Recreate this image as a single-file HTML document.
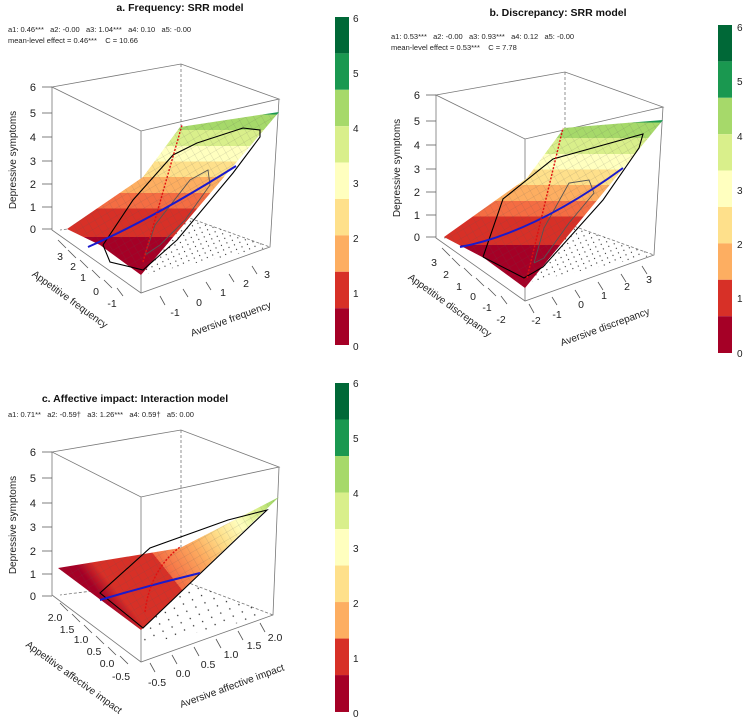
<!DOCTYPE html>
<html><head><meta charset="utf-8"><style>
html,body{margin:0;padding:0;background:#fff;}
svg{display:block;font-family:"Liberation Sans",Arial,sans-serif;}
</style></head><body>
<svg width="750" height="723" viewBox="0 0 750 723" xmlns="http://www.w3.org/2000/svg">
<defs>
<linearGradient id="ga" gradientUnits="userSpaceOnUse" x1="0" y1="262" x2="0" y2="105">
<stop offset="0" stop-color="#A50026"/><stop offset="0.16" stop-color="#A50026"/>
<stop offset="0.16" stop-color="#D73027"/><stop offset="0.34" stop-color="#D73027"/>
<stop offset="0.34" stop-color="#F46D43"/><stop offset="0.44" stop-color="#F46D43"/>
<stop offset="0.44" stop-color="#FDAE61"/><stop offset="0.54" stop-color="#FDAE61"/>
<stop offset="0.54" stop-color="#FEE08B"/><stop offset="0.64" stop-color="#FEE08B"/>
<stop offset="0.64" stop-color="#FFFFBF"/><stop offset="0.74" stop-color="#FFFFBF"/>
<stop offset="0.74" stop-color="#D9EF8B"/><stop offset="0.84" stop-color="#D9EF8B"/>
<stop offset="0.84" stop-color="#A6D96A"/><stop offset="0.94" stop-color="#A6D96A"/>
<stop offset="0.94" stop-color="#1A9850"/><stop offset="1" stop-color="#1A9850"/>
</linearGradient>
<linearGradient id="gc" gradientUnits="userSpaceOnUse" x1="120" y1="620" x2="270" y2="500">
<stop offset="0" stop-color="#A50026"/><stop offset="0.08" stop-color="#D73027"/>
<stop offset="0.35" stop-color="#D73027"/><stop offset="0.35" stop-color="#F46D43"/>
<stop offset="0.55" stop-color="#FDAE61"/><stop offset="0.68" stop-color="#FEE08B"/>
<stop offset="0.8" stop-color="#FFFFBF"/><stop offset="0.92" stop-color="#D9EF8B"/>
<stop offset="1" stop-color="#A6D96A"/>
</linearGradient>
<pattern id="dots" width="6" height="5" patternUnits="userSpaceOnUse" patternTransform="rotate(-25)">
<circle cx="1" cy="1" r="0.6" fill="#222"/>
</pattern>
<pattern id="dots2" width="10" height="8" patternUnits="userSpaceOnUse" patternTransform="rotate(-25)">
<circle cx="1" cy="1" r="0.7" fill="#222"/>
</pattern>
<pattern id="mesh" width="7" height="7" patternUnits="userSpaceOnUse" patternTransform="rotate(-30)">
<path d="M0 0H7M0 0V7" stroke="#555" stroke-width="0.4" fill="none" opacity="0.5"/>
</pattern>
<g id="cbar">
<rect x="0" y="0" width="14" height="36.4" fill="#006837"/>
<rect x="0" y="36.4" width="14" height="36.4" fill="#1A9850"/>
<rect x="0" y="72.8" width="14" height="36.4" fill="#A6D96A"/>
<rect x="0" y="109.2" width="14" height="36.4" fill="#D9EF8B"/>
<rect x="0" y="145.6" width="14" height="36.4" fill="#FFFFBF"/>
<rect x="0" y="182" width="14" height="36.4" fill="#FEE08B"/>
<rect x="0" y="218.4" width="14" height="36.4" fill="#FDAE61"/>
<rect x="0" y="254.8" width="14" height="36.4" fill="#D73027"/>
<rect x="0" y="291.2" width="14" height="36.8" fill="#A50026"/>
</g>
<g id="boxa">
<g stroke="#777" stroke-width="0.8" fill="none">
<path d="M52 87 L181 64 L279 99 L141 131 Z"/>
<path d="M52 87 V230 L141 293 L270 247 L279 99"/>
<path d="M141 131 V293"/>
<path d="M181 64 V215 M181 215 L60 230 M181 215 L270 247" stroke-dasharray="3,2"/>
</g>
<g stroke="#555" stroke-width="0.8">
<path d="M42 87H52M42 113H52M42 137H52M42 161H52M42 184H52M42 207H52M42 229H52"/>
</g>
<g font-size="11" fill="#222" text-anchor="end">
<text x="36" y="91">6</text><text x="36" y="117">5</text><text x="36" y="141">4</text>
<text x="36" y="165">3</text><text x="36" y="188">2</text><text x="36" y="211">1</text><text x="36" y="233">0</text>
</g>
<text transform="translate(16,160) rotate(-90)" font-size="10" fill="#222" text-anchor="middle">Depressive symptoms</text>
</g>
</defs>

<!-- Panel A -->
<text x="180" y="11" font-size="10.5" font-weight="bold" text-anchor="middle" fill="#111">a. Frequency: SRR model</text>
<text x="8" y="32" font-size="7.5" fill="#222">a1: 0.46***&#160;&#160; a2: -0.00&#160;&#160; a3: 1.04***&#160;&#160; a4: 0.10&#160;&#160; a5: -0.00</text>
<text x="8" y="43" font-size="7.5" fill="#222">mean-level effect = 0.46***&#160;&#160;&#160; C = 10.66</text>
<use href="#boxa"/>
<polygon points="141,275 270,247 181,215" fill="url(#dots)"/>
<polygon points="67,229 100,245 141,275 279,112 180,127 143,177" fill="url(#ga)"/>
<polygon points="67,229 100,245 141,275 279,112 180,127 143,177" fill="url(#mesh)"/>
<polyline points="103,245 133,200 157,173 173,155 197,143 243,128 260,130 260,137 233,173 177,240 143,270 110,262 103,245" fill="none" stroke="#000" stroke-width="1.1"/>
<polyline points="145,255 155,225 190,180 208,170 210,185 185,220 160,245 145,255" fill="none" stroke="#555" stroke-width="0.9"/>
<path d="M88 247 Q150 220 236 166" fill="none" stroke="#1a1acc" stroke-width="2"/>
<path d="M143 262 L182 125" fill="none" stroke="#e01010" stroke-width="1.4" stroke-dasharray="2,1.5"/>
<g stroke="#555" stroke-width="0.8"><path d="M58 240L66 248M68 250L76 258M80 260L88 268M92 270L100 278M104 280L112 288M117 288L123 296"/>
<path d="M160 296L165 305M183 289L188 297M206 282L211 290M229 274L234 282M252 266L257 274"/></g>
<g font-size="10.5" fill="#222" text-anchor="middle">
<text x="60" y="260">3</text><text x="73" y="270">2</text><text x="83" y="281">1</text><text x="96" y="295">0</text><text x="112" y="307">-1</text>
<text x="175" y="316">-1</text><text x="199" y="306">0</text><text x="223" y="296">1</text><text x="246" y="287">2</text><text x="267" y="278">3</text>
</g>
<text transform="translate(68,302) rotate(36)" font-size="10" fill="#222" text-anchor="middle">Appetitive frequency</text>
<text transform="translate(232,322) rotate(-20)" font-size="10" fill="#222" text-anchor="middle">Aversive frequency</text>
<use href="#cbar" transform="translate(335,17)"/>
<g font-size="10" fill="#222"><text x="353" y="22">6</text><text x="353" y="77">5</text><text x="353" y="132">4</text><text x="353" y="187">3</text><text x="353" y="242">2</text><text x="353" y="297">1</text><text x="353" y="350">0</text></g>

<!-- Panel B -->
<text x="558" y="16" font-size="10.5" font-weight="bold" text-anchor="middle" fill="#111">b. Discrepancy: SRR model</text>
<text x="391" y="39" font-size="7.5" fill="#222">a1: 0.53***&#160;&#160; a2: -0.00&#160;&#160; a3: 0.93***&#160;&#160; a4: 0.12&#160;&#160; a5: -0.00</text>
<text x="391" y="50" font-size="7.5" fill="#222">mean-level effect = 0.53***&#160;&#160;&#160; C = 7.78</text>
<g transform="translate(384,8)">
<use href="#boxa"/>
<polygon points="141,275 270,247 181,215" fill="url(#dots)"/>
<polygon points="60,229 100,250 141,280 279,112 180,120 143,170" fill="url(#ga)"/>
<polygon points="60,229 100,250 141,280 279,112 180,120 143,170" fill="url(#mesh)"/>
<polyline points="99,249 119,191 169,151 259,126 255,140 219,192 159,259 140,270 99,249" fill="none" stroke="#000" stroke-width="1.1"/>
<polyline points="150,255 160,220 185,175 205,172 210,185 185,215 160,250 150,255" fill="none" stroke="#555" stroke-width="0.9"/>
<path d="M76 239 Q150 225 239 160" fill="none" stroke="#1a1acc" stroke-width="2"/>
<path d="M143 270 L179 120" fill="none" stroke="#e01010" stroke-width="1.4" stroke-dasharray="2,1.5"/>
<g stroke="#555" stroke-width="0.8"><path d="M58 240L66 248M68 250L76 258M80 260L88 268M92 270L100 278M104 280L112 288M117 288L123 296"/>
<path d="M145 296L150 305M168 289L173 297M191 282L196 290M214 274L219 282M237 266L242 274M258 258L263 266"/></g>
<g font-size="10.5" fill="#222" text-anchor="middle">
<text x="50" y="258">3</text><text x="62" y="270">2</text><text x="75" y="282">1</text><text x="89" y="292">0</text><text x="103" y="303">-1</text><text x="117" y="315">-2</text>
<text x="152" y="316">-2</text><text x="173" y="310">-1</text><text x="197" y="300">0</text><text x="220" y="291">1</text><text x="243" y="282">2</text><text x="265" y="275">3</text>
</g>
<text transform="translate(64,300) rotate(36)" font-size="10" fill="#222" text-anchor="middle">Appetitive discrepancy</text>
<text transform="translate(222,322) rotate(-20)" font-size="10" fill="#222" text-anchor="middle">Aversive discrepancy</text>
</g>
<use href="#cbar" transform="translate(718,25)"/>
<g font-size="10" fill="#222"><text x="737" y="31">6</text><text x="737" y="85">5</text><text x="737" y="140">4</text><text x="737" y="194">3</text><text x="737" y="248">2</text><text x="737" y="302">1</text><text x="737" y="357">0</text></g>

<!-- Panel C -->
<text x="135" y="402" font-size="10.5" font-weight="bold" text-anchor="middle" fill="#111">c. Affective impact: Interaction model</text>
<text x="8" y="417" font-size="7.5" fill="#222">a1: 0.71**&#160;&#160; a2: -0.59†&#160;&#160; a3: 1.26***&#160;&#160; a4: 0.59†&#160;&#160; a5: 0.00</text>
<g stroke="#777" stroke-width="0.8" fill="none">
<path d="M52 452 L181 430 L279 467 L141 497 Z"/>
<path d="M52 452 V595 L141 662 L273 615 L279 467"/>
<path d="M141 497 V662"/>
<path d="M181 430 V580 M181 580 L60 595 M181 580 L273 615" stroke-dasharray="3,2"/>
</g>
<g stroke="#555" stroke-width="0.8"><path d="M42 452H52M42 478H52M42 503H52M42 527H52M42 551H52M42 574H52M42 596H52"/></g>
<g font-size="11" fill="#222" text-anchor="end">
<text x="36" y="456">6</text><text x="36" y="482">5</text><text x="36" y="507">4</text><text x="36" y="531">3</text><text x="36" y="555">2</text><text x="36" y="578">1</text><text x="36" y="600">0</text>
</g>
<text transform="translate(16,525) rotate(-90)" font-size="10" fill="#222" text-anchor="middle">Depressive symptoms</text>
<polygon points="141,645 273,615 181,580 150,600" fill="url(#dots2)"/>
<polygon points="58,568 141,630 279,497 180,548" fill="url(#gc)"/>
<polygon points="58,568 141,630 279,497 180,548" fill="url(#mesh)"/>
<polygon points="100,593 143,628 267,510 228,520 150,548" fill="none" stroke="#000" stroke-width="1.1"/>
<path d="M100 600 Q150 585 200 573" fill="none" stroke="#1a1acc" stroke-width="2"/>
<path d="M145 612 Q150 570 180 547" fill="none" stroke="#e01010" stroke-width="1.4" stroke-dasharray="2,1.5"/>
<g stroke="#555" stroke-width="0.8"><path d="M60 603L68 611M72 614L80 622M84 625L92 633M96 636L104 644M108 647L116 655M120 656L128 664"/>
<path d="M150 663L155 672M172 655L177 664M194 647L199 656M216 639L221 648M238 631L243 640M260 623L265 632"/></g>
<g font-size="10.5" fill="#222" text-anchor="middle">
<text x="55" y="621">2.0</text><text x="67" y="633">1.5</text><text x="81" y="643">1.0</text><text x="94" y="655">0.5</text><text x="107" y="667">0.0</text><text x="121" y="680">-0.5</text>
<text x="157" y="686">-0.5</text><text x="183" y="677">0.0</text><text x="208" y="668">0.5</text><text x="231" y="658">1.0</text><text x="254" y="649">1.5</text><text x="275" y="641">2.0</text>
</g>
<text transform="translate(72,680) rotate(36)" font-size="10" fill="#222" text-anchor="middle">Appetitive affective impact</text>
<text transform="translate(233,689) rotate(-20)" font-size="10" fill="#222" text-anchor="middle">Aversive affective impact</text>
<use href="#cbar" transform="translate(335,383) scale(1,1.003)"/>
<g font-size="10" fill="#222"><text x="353" y="387">6</text><text x="353" y="442">5</text><text x="353" y="497">4</text><text x="353" y="552">3</text><text x="353" y="607">2</text><text x="353" y="662">1</text><text x="353" y="717">0</text></g>
</svg>
</body></html>
